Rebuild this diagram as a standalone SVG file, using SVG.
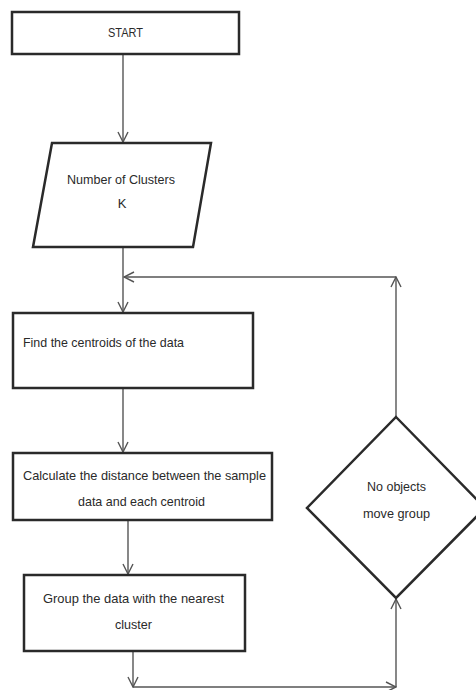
<svg xmlns="http://www.w3.org/2000/svg" width="476" height="690" viewBox="0 0 476 690">
<style>
.box{fill:#fff;stroke:#2a2a2a;stroke-width:2.5}
.conn{fill:none;stroke:#555;stroke-width:1.4}
text{font-family:"Liberation Sans","DejaVu Sans",sans-serif;font-size:13px;fill:#2a2a2a}
</style>
<defs>
<marker id="arr" viewBox="0 0 12 12" refX="11" refY="6" markerWidth="12" markerHeight="12" markerUnits="userSpaceOnUse" orient="auto">
<path d="M1,1 L11,6 L1,11" fill="none" stroke="#555" stroke-width="1.4"/>
</marker>
</defs>
<rect width="476" height="690" fill="#fff"/>
<g id="connectors">
<line class="conn" x1="123" y1="54" x2="123" y2="142" marker-end="url(#arr)"/>
<line class="conn" x1="123" y1="247" x2="123" y2="312" marker-end="url(#arr)"/>
<line class="conn" x1="123" y1="388" x2="123" y2="452" marker-end="url(#arr)"/>
<line class="conn" x1="128" y1="520" x2="128" y2="574" marker-end="url(#arr)"/>
<line class="conn" x1="133" y1="651" x2="133" y2="687" marker-end="url(#arr)"/>
<line class="conn" x1="133" y1="687" x2="396" y2="687" marker-end="url(#arr)"/>
<line class="conn" x1="396" y1="687" x2="396" y2="599" marker-end="url(#arr)"/>
<line class="conn" x1="396" y1="417" x2="396" y2="277" marker-end="url(#arr)"/>
<line class="conn" x1="396" y1="277" x2="124" y2="277" marker-end="url(#arr)"/>
</g>
<g id="start">
<rect class="box" x="12" y="12" width="227" height="42"/>
<text x="125.5" y="37" text-anchor="middle" textLength="35" lengthAdjust="spacingAndGlyphs">START</text>
</g>
<g id="input-k">
<polygon class="box" points="52,143 211,143 193,247 33,247"/>
<text x="121" y="184" text-anchor="middle" textLength="108" lengthAdjust="spacingAndGlyphs">Number of Clusters</text>
<text x="122" y="208" text-anchor="middle">K</text>
</g>
<g id="find-centroids">
<rect class="box" x="13" y="313" width="240" height="75"/>
<text x="23" y="347" textLength="161" lengthAdjust="spacingAndGlyphs">Find the centroids of the data</text>
</g>
<g id="calc-distance">
<rect class="box" x="13" y="453" width="259" height="67"/>
<text x="23" y="480" textLength="243" lengthAdjust="spacingAndGlyphs">Calculate the distance between the sample</text>
<text x="141.5" y="506" text-anchor="middle" textLength="127" lengthAdjust="spacingAndGlyphs">data and each centroid</text>
</g>
<g id="group-data">
<rect class="box" x="24" y="575" width="221" height="76"/>
<text x="133.5" y="603" text-anchor="middle" textLength="181" lengthAdjust="spacingAndGlyphs">Group the data with the nearest</text>
<text x="133.5" y="629" text-anchor="middle" textLength="37" lengthAdjust="spacingAndGlyphs">cluster</text>
</g>
<g id="decision">
<polygon class="box" points="396,417 485,508 396,598 307,508"/>
<text x="396.5" y="491" text-anchor="middle" textLength="59" lengthAdjust="spacingAndGlyphs">No objects</text>
<text x="396.5" y="518" text-anchor="middle" textLength="67" lengthAdjust="spacingAndGlyphs">move group</text>
</g>
</svg>
